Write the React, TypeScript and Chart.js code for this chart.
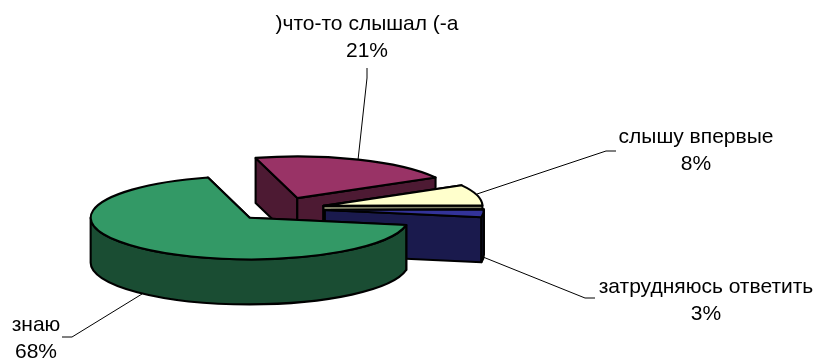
import React, { useEffect, useRef } from "react";
import { Chart, registerables } from "chart.js";

Chart.register(...registerables);

const categories = [")что-то слышал (-а", "слышу впервые", "затрудняюсь ответить", "знаю"];
const shares = [21, 8, 3, 68];
const topColors = ["#993366", "#FFFFCC", "#333399", "#339966"];
const sideColors = ["#4D1A33", "#808066", "#1A1A4D", "#1A4D33"];

const FONT = '21px "Liberation Sans", Arial, sans-serif';
const CENTER_X = 280;
const CENTER_Y = 209;
const TILT = 0.262;
const DEPTH = 45;
const EXPLODE = 45;
const OUTLINE = 2.1;

// label centre x, first line centre y, then the leader polyline
const labelLayout = [
  { x: 367, y: 24, leader: [[367, 68], [367, 78], [358, 160]] },
  { x: 696, y: 137, leader: [[616, 151], [606, 151], [477, 194]] },
  { x: 706, y: 287, leader: [[595, 298], [585, 298], [483, 257]] },
  { x: 36, y: 325, leader: [[62, 337], [72, 337], [142, 294]] },
];

const pie3d = {
  id: "pie3d",
  beforeDatasetsDraw(chart: any) {
    const { ctx } = chart;
    const arcs = chart.getDatasetMeta(0).data;
    arcs.forEach((arc: any, i: number) => {
      const { x, y, startAngle: a0, endAngle: a1, outerRadius: r } = arc;
      const mid = (a0 + a1) / 2;
      const ox = CENTER_X + Math.cos(mid) * EXPLODE;
      const oy = CENTER_Y + Math.sin(mid) * EXPLODE * TILT;
      const px = (a: number) => ox + Math.cos(a) * r;
      const py = (a: number) => oy + Math.sin(a) * r * TILT;

      ctx.save();
      ctx.lineWidth = OUTLINE;
      ctx.lineJoin = "round";
      ctx.strokeStyle = "#000";
      ctx.fillStyle = sideColors[i];

      // cut faces
      [a0, a1].forEach((a) => {
        ctx.beginPath();
        ctx.moveTo(ox, oy);
        ctx.lineTo(px(a), py(a));
        ctx.lineTo(px(a), py(a) + DEPTH);
        ctx.lineTo(ox, oy + DEPTH);
        ctx.closePath();
        ctx.fill();
        ctx.stroke();
      });

      // outer wall: the part of the rim that faces the viewer
      const TAU = Math.PI * 2;
      for (const k of [-1, 0, 1]) {
        const w0 = Math.max(a0, k * TAU);
        const w1 = Math.min(a1, k * TAU + Math.PI);
        if (w1 > w0) {
          ctx.beginPath();
          ctx.ellipse(ox, oy, r, r * TILT, 0, w0, w1);
          ctx.lineTo(px(w1), py(w1) + DEPTH);
          ctx.ellipse(ox, oy + DEPTH, r, r * TILT, 0, w1, w0, true);
          ctx.closePath();
          ctx.fill();
          ctx.stroke();
        }
      }

      // top face: the library's own arc, flattened
      ctx.save();
      ctx.translate(ox, oy);
      ctx.scale(1, TILT);
      ctx.translate(-x, -y);
      arc.draw(ctx);
      ctx.restore();

      ctx.beginPath();
      ctx.moveTo(ox, oy);
      ctx.ellipse(ox, oy, r, r * TILT, 0, a0, a1);
      ctx.closePath();
      ctx.stroke();
      ctx.restore();
    });
    return false;
  },
  afterDraw(chart: any) {
    const { ctx } = chart;
    ctx.save();
    ctx.font = FONT;
    ctx.textAlign = "center";
    ctx.textBaseline = "middle";
    ctx.fillStyle = "#000";
    ctx.strokeStyle = "#000";
    ctx.lineWidth = 1;
    categories.forEach((name, i) => {
      const l = labelLayout[i];
      ctx.fillText(name, l.x, l.y);
      ctx.fillText(`${shares[i]}%`, l.x, l.y + 27);
      ctx.beginPath();
      l.leader.forEach(([px, py], j) => (j ? ctx.lineTo(px, py) : ctx.moveTo(px, py)));
      ctx.stroke();
    });
    ctx.restore();
  },
};

export default function App() {
  const ref = useRef<HTMLCanvasElement>(null);
  useEffect(() => {
    const chart = new Chart(ref.current as HTMLCanvasElement, {
      type: "pie",
      data: {
        labels: categories,
        datasets: [
          {
            data: shares,
            backgroundColor: topColors,
            borderWidth: 0,
            radius: 159,
          },
        ],
      },
      options: {
        responsive: false,
        animation: false,
        rotation: -15.2,
        events: [],
        plugins: { legend: { display: false }, tooltip: { enabled: false } },
      },
      plugins: [pie3d],
    } as any);
    return () => chart.destroy();
  }, []);
  return (
    <div style={{ position: "absolute", left: 0, top: 0, width: 819, height: 360, background: "#fff" }}>
      <canvas ref={ref} width={819} height={360} style={{ display: "block" }} />
    </div>
  );
}
